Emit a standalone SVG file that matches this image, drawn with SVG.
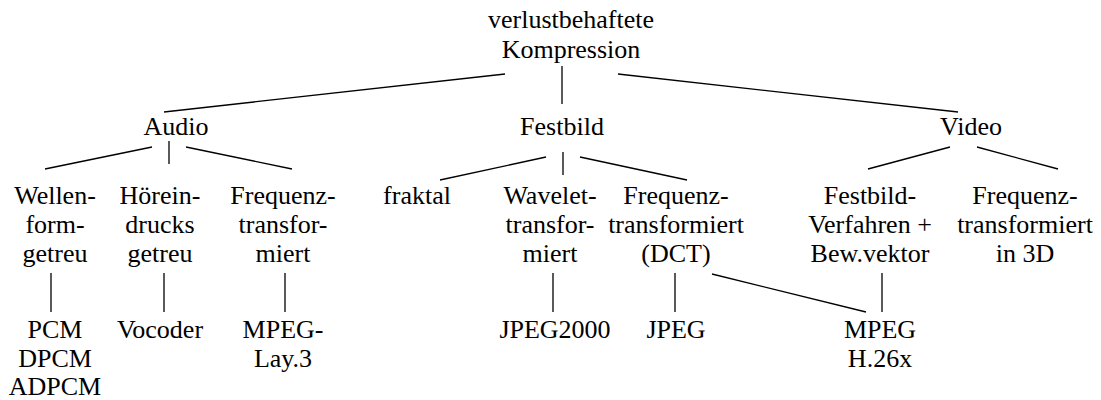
<svg xmlns="http://www.w3.org/2000/svg" width="1101" height="400" viewBox="0 0 1101 400">
  <style>
    text { font-family: "Liberation Serif", "Times New Roman", serif; font-size: 26px; fill: #000; text-anchor: middle; }
    .edge { stroke: #000; stroke-width: 1.3; fill: none; }
  </style>
  <rect width="1101" height="400" fill="#fff"/>

  <!-- connectors -->
  <g id="edges" class="edge">
    <line x1="505" y1="74" x2="164" y2="112"/>
    <line x1="562" y1="66" x2="562" y2="104"/>
    <line x1="618" y1="74" x2="958" y2="112"/>
    <line x1="152" y1="147" x2="45" y2="169"/>
    <line x1="169" y1="141" x2="169" y2="164"/>
    <line x1="186" y1="147" x2="292" y2="169"/>
    <line x1="546" y1="157" x2="440" y2="180"/>
    <line x1="563" y1="152" x2="563" y2="175"/>
    <line x1="580" y1="157" x2="687" y2="180"/>
    <line x1="950" y1="147" x2="868" y2="169"/>
    <line x1="977" y1="147" x2="1058" y2="169"/>
    <line x1="51" y1="273" x2="51" y2="312"/>
    <line x1="164" y1="273" x2="164" y2="312"/>
    <line x1="285" y1="273" x2="285" y2="312"/>
    <line x1="553" y1="273" x2="553" y2="312"/>
    <line x1="675" y1="273" x2="675" y2="312"/>
    <line x1="712" y1="274" x2="866" y2="312"/>
    <line x1="882" y1="273" x2="882" y2="312"/>
  </g>

  <!-- root -->
  <g id="root">
    <text x="571" y="28">verlustbehaftete</text>
    <text x="571" y="58">Kompression</text>
  </g>

  <!-- first level -->
  <g id="audio"><text x="176" y="135">Audio</text></g>
  <g id="festbild"><text x="562" y="135">Festbild</text></g>
  <g id="video"><text x="971" y="135">Video</text></g>

  <!-- second level -->
  <g id="wellenform">
    <text x="55" y="204">Wellen-</text>
    <text x="55" y="233">form-</text>
    <text x="55" y="262">getreu</text>
  </g>
  <g id="hoereindruck">
    <text x="160" y="204">Hörein-</text>
    <text x="160" y="233">drucks</text>
    <text x="160" y="262">getreu</text>
  </g>
  <g id="audio-frequenz">
    <text x="283" y="204">Frequenz-</text>
    <text x="283" y="233">transfor-</text>
    <text x="283" y="262">miert</text>
  </g>
  <g id="fraktal"><text x="417" y="204">fraktal</text></g>
  <g id="wavelet">
    <text x="550" y="204">Wavelet-</text>
    <text x="550" y="233">transfor-</text>
    <text x="550" y="262">miert</text>
  </g>
  <g id="bild-frequenz">
    <text x="676" y="204">Frequenz-</text>
    <text x="676" y="233">transformiert</text>
    <text x="676" y="262">(DCT)</text>
  </g>
  <g id="festbild-verfahren">
    <text x="870" y="204">Festbild-</text>
    <text x="870" y="233">Verfahren +</text>
    <text x="870" y="262">Bew.vektor</text>
  </g>
  <g id="video-frequenz">
    <text x="1025" y="204">Frequenz-</text>
    <text x="1025" y="233">transformiert</text>
    <text x="1025" y="262">in 3D</text>
  </g>

  <!-- third level -->
  <g id="pcm">
    <text x="55" y="338">PCM</text>
    <text x="55" y="367">DPCM</text>
    <text x="55" y="395">ADPCM</text>
  </g>
  <g id="vocoder"><text x="160" y="338">Vocoder</text></g>
  <g id="mpeg-layer3">
    <text x="283" y="338">MPEG-</text>
    <text x="283" y="367">Lay.3</text>
  </g>
  <g id="jpeg2000"><text x="555" y="338">JPEG2000</text></g>
  <g id="jpeg"><text x="676" y="338">JPEG</text></g>
  <g id="mpeg-h26x">
    <text x="880" y="338">MPEG</text>
    <text x="880" y="367">H.26x</text>
  </g>
</svg>
